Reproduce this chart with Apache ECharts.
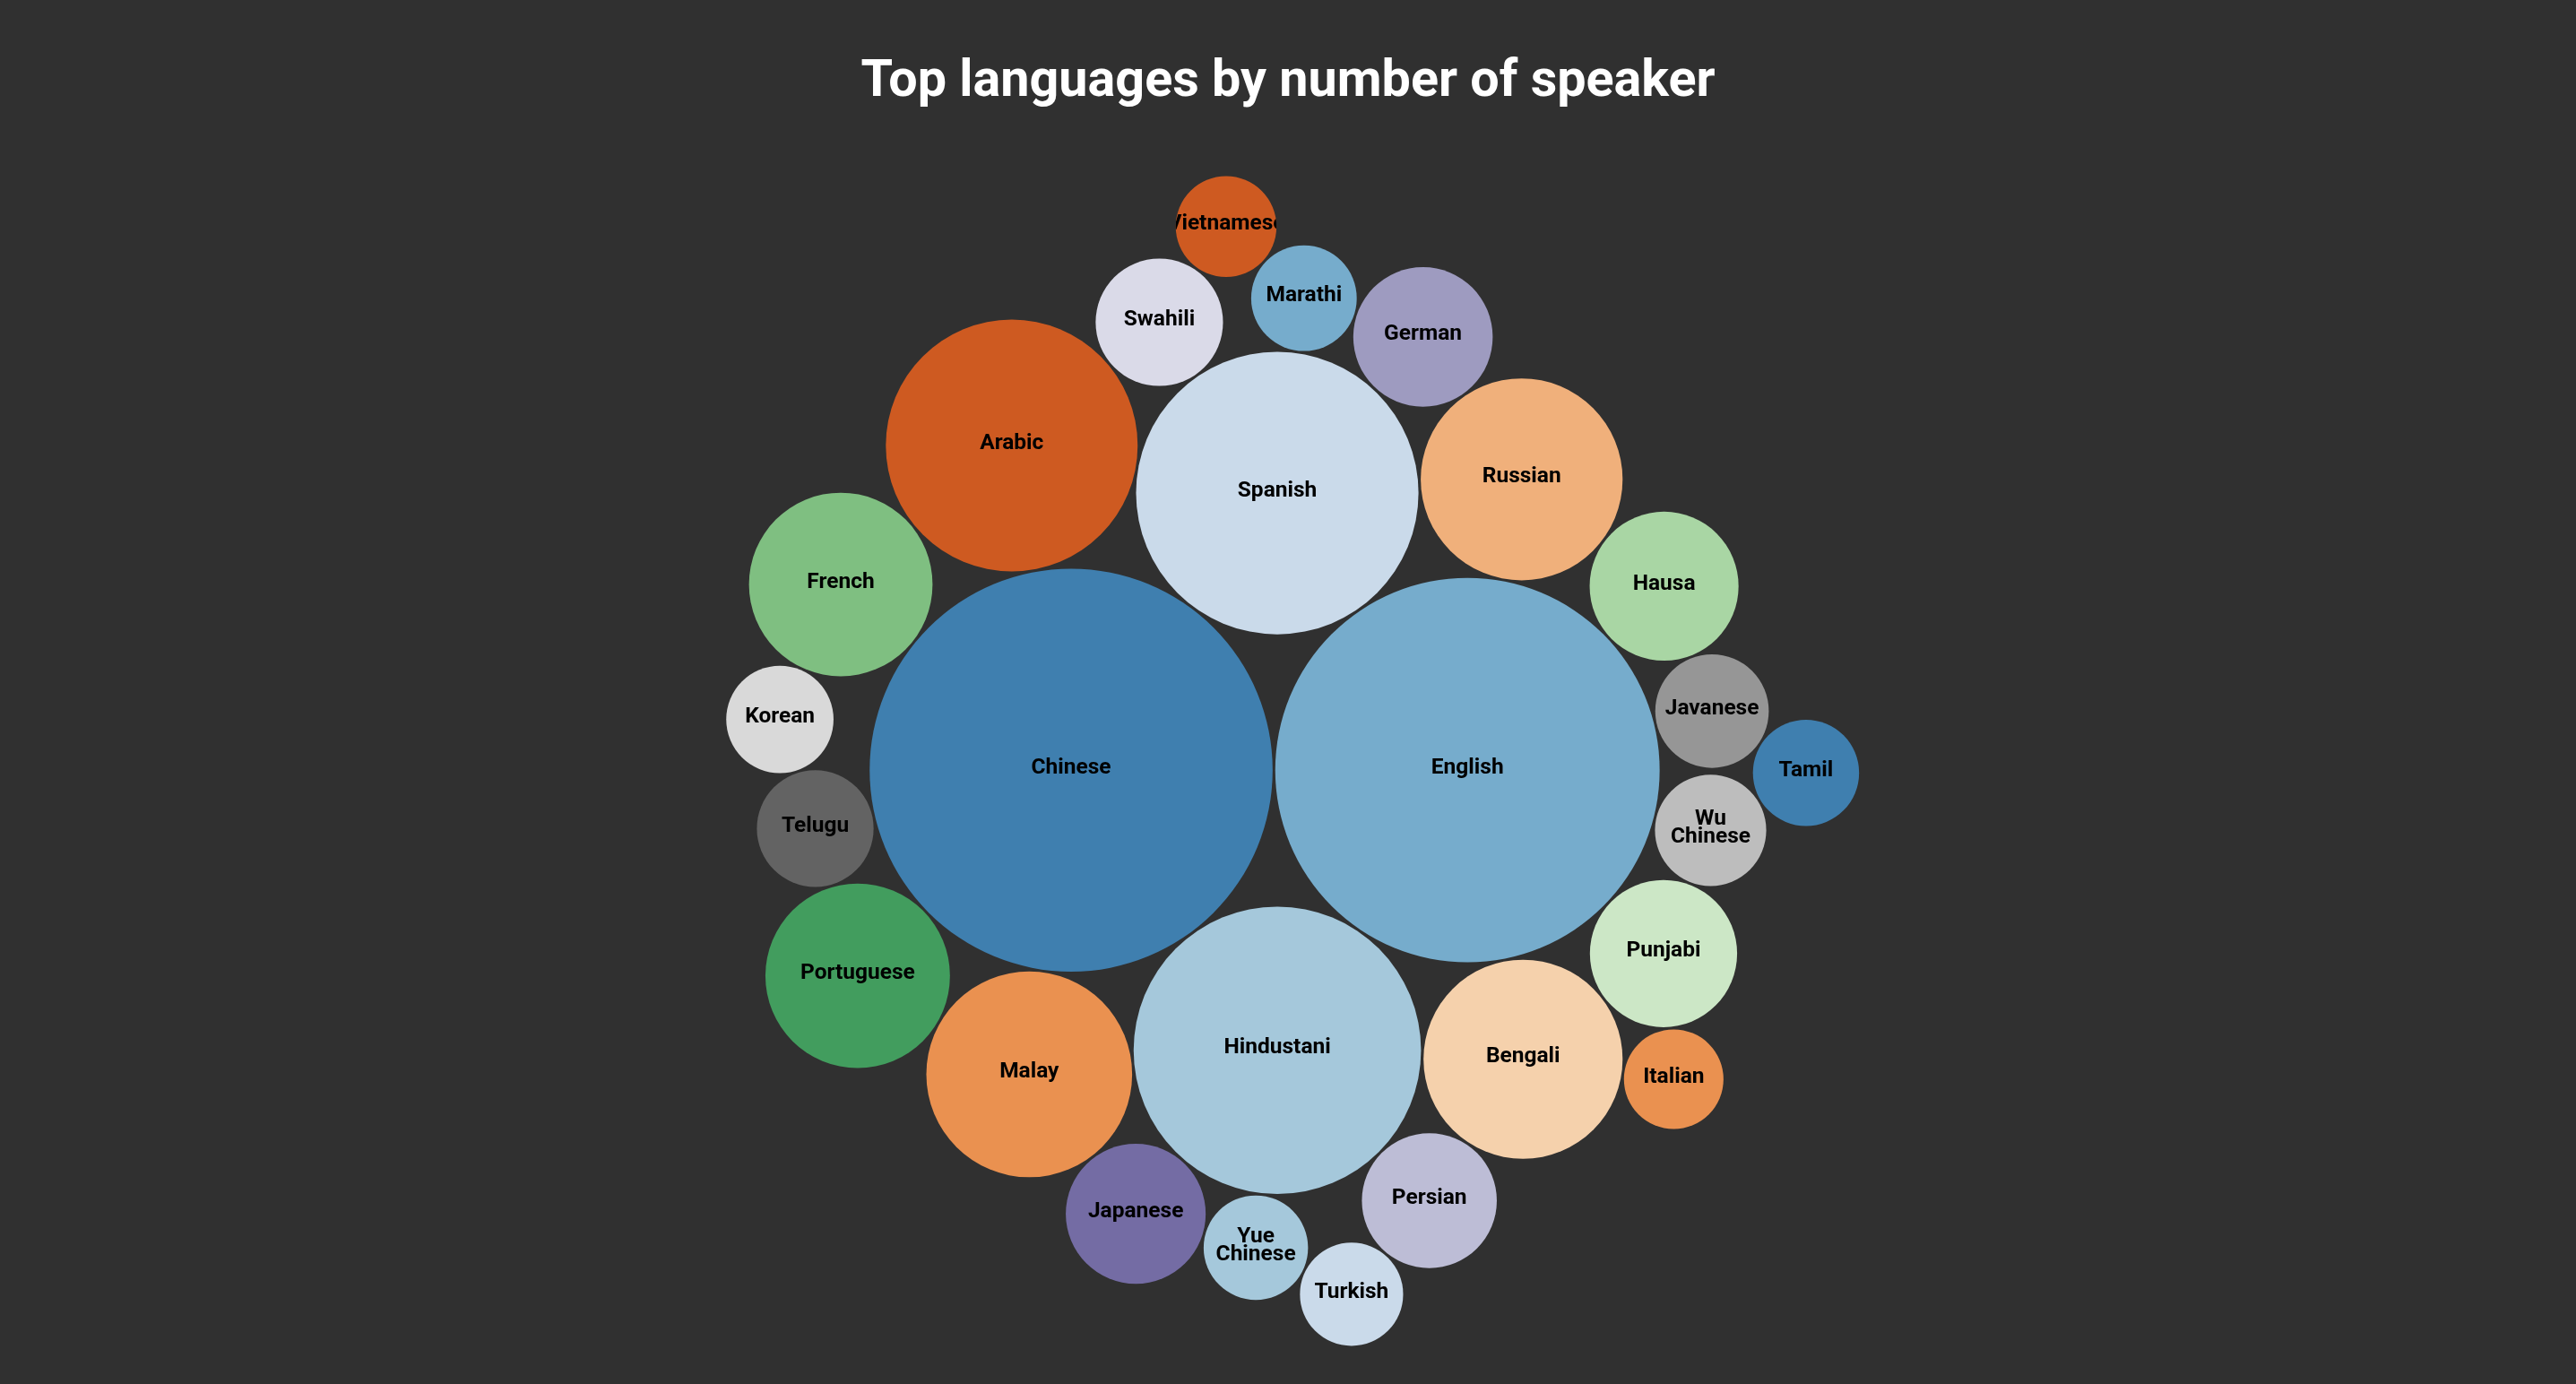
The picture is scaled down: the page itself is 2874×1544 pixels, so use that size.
<!DOCTYPE html>
<html>
<head>
<meta charset="utf-8">
<title>Top languages by number of speaker</title>
<script src="https://cdn.jsdelivr.net/npm/echarts/dist/echarts.min.js"></script>
<style>
  html, body { margin: 0; padding: 0; background: #303030; }
  #chart { width: 2874px; height: 1544px; }
</style>
</head>
<body>
<div id="chart"></div>
<script>
// languages, in data order (same order the colours are handed out)
const languages = [
  'Chinese', 'English', 'Hindustani', 'Spanish', 'Arabic', 'Malay', 'Russian',
  'Bengali', 'Portuguese', 'French', 'Hausa', 'Punjabi', 'Japanese', 'German',
  'Persian', 'Swahili', 'Telugu', 'Javanese', 'Wu Chinese', 'Korean', 'Tamil',
  'Marathi', 'Yue Chinese', 'Turkish', 'Vietnamese', 'Italian'
];
// speakers, millions
const speakers = [
  1311, 1193, 667, 644, 512, 342, 329,
  320, 275, 272, 179, 175, 158, 157,
  147, 131, 110, 104, 100, 93, 91,
  90, 88, 86, 82, 80
];
// d3 category20c, a bit muted like the picture
const baseColors = [
  '#3182bd', '#6baed6', '#9ecae1', '#c6dbef', '#e6550d', '#fd8d3c', '#fdae6b', '#fdd0a2',
  '#31a354', '#74c476', '#a1d99b', '#c7e9c0', '#756bb1', '#9e9ac8', '#bcbddc', '#dadaeb',
  '#636363', '#969696', '#bdbdbd', '#d9d9d9'
];

function mute(hex, s) {
  const r = parseInt(hex.slice(1, 3), 16), g = parseInt(hex.slice(3, 5), 16), b = parseInt(hex.slice(5, 7), 16);
  const l = 0.213 * r + 0.715 * g + 0.072 * b;
  const f = v => Math.max(0, Math.min(255, Math.round(l + s * (v - l))));
  return 'rgb(' + f(r) + ',' + f(g) + ',' + f(b) + ')';
}
const palette = baseColors.map(c => mute(c, 0.8));

// ---- circle packing (front-chain, same as d3.packSiblings) ----
function place(b, a, c) {
  var dx = b.x - a.x, dy = b.y - a.y, d2 = dx * dx + dy * dy, x, y, a2, b2;
  if (d2) {
    a2 = a.r + c.r; a2 *= a2;
    b2 = b.r + c.r; b2 *= b2;
    if (a2 > b2) {
      x = (d2 + b2 - a2) / (2 * d2);
      y = Math.sqrt(Math.max(0, b2 / d2 - x * x));
      c.x = b.x - x * dx - y * dy;
      c.y = b.y - x * dy + y * dx;
    } else {
      x = (d2 + a2 - b2) / (2 * d2);
      y = Math.sqrt(Math.max(0, a2 / d2 - x * x));
      c.x = a.x + x * dx - y * dy;
      c.y = a.y + x * dy + y * dx;
    }
  } else {
    c.x = a.x + c.r;
    c.y = a.y;
  }
}
function intersects(a, b) {
  var dr = a.r + b.r - 1e-6, dx = b.x - a.x, dy = b.y - a.y;
  return dr > 0 && dr * dr > dx * dx + dy * dy;
}
function score(node) {
  var a = node._, b = node.next._, ab = a.r + b.r,
      dx = (a.x * b.r + b.x * a.r) / ab,
      dy = (a.y * b.r + b.y * a.r) / ab;
  return dx * dx + dy * dy;
}
function Node(c) { this._ = c; this.next = null; this.previous = null; }

function enclosesNot(a, b) {
  var dr = a.r - b.r, dx = b.x - a.x, dy = b.y - a.y;
  return dr < 0 || dr * dr < dx * dx + dy * dy;
}
function enclosesWeak(a, b) {
  var dr = a.r - b.r + Math.max(a.r, b.r, 1) * 1e-9, dx = b.x - a.x, dy = b.y - a.y;
  return dr > 0 && dr * dr > dx * dx + dy * dy;
}
function enclosesWeakAll(a, B) {
  for (var i = 0; i < B.length; ++i) if (!enclosesWeak(a, B[i])) return false;
  return true;
}
function basis2(a, b) {
  var x21 = b.x - a.x, y21 = b.y - a.y, r21 = b.r - a.r,
      l = Math.sqrt(x21 * x21 + y21 * y21);
  return { x: (a.x + b.x + x21 / l * r21) / 2, y: (a.y + b.y + y21 / l * r21) / 2, r: (l + a.r + b.r) / 2 };
}
function basis3(a, b, c) {
  var x1 = a.x, y1 = a.y, r1 = a.r, x2 = b.x, y2 = b.y, r2 = b.r, x3 = c.x, y3 = c.y, r3 = c.r,
      a2 = x1 - x2, a3 = x1 - x3, b2 = y1 - y2, b3 = y1 - y3,
      c2 = r2 - r1, c3 = r3 - r1,
      d1 = x1 * x1 + y1 * y1 - r1 * r1,
      d2 = d1 - x2 * x2 - y2 * y2 + r2 * r2,
      d3 = d1 - x3 * x3 - y3 * y3 + r3 * r3,
      ab = a3 * b2 - a2 * b3,
      xa = (b2 * d3 - b3 * d2) / (ab * 2) - x1,
      xb = (b3 * c2 - b2 * c3) / ab,
      ya = (a3 * d2 - a2 * d3) / (ab * 2) - y1,
      yb = (a2 * c3 - a3 * c2) / ab,
      A = xb * xb + yb * yb - 1,
      B = 2 * (r1 + xa * xb + ya * yb),
      C = xa * xa + ya * ya - r1 * r1,
      r = -(Math.abs(A) > 1e-6 ? (B + Math.sqrt(B * B - 4 * A * C)) / (2 * A) : C / B);
  return { x: x1 + xa + xb * r, y: y1 + ya + yb * r, r: r };
}
function basis(B) {
  if (B.length === 1) return { x: B[0].x, y: B[0].y, r: B[0].r };
  if (B.length === 2) return basis2(B[0], B[1]);
  return basis3(B[0], B[1], B[2]);
}
function extendBasis(B, p) {
  var i, j;
  if (enclosesWeakAll(p, B)) return [p];
  for (i = 0; i < B.length; ++i) {
    if (enclosesNot(p, B[i]) && enclosesWeakAll(basis2(B[i], p), B)) return [B[i], p];
  }
  for (i = 0; i < B.length - 1; ++i) {
    for (j = i + 1; j < B.length; ++j) {
      if (enclosesNot(basis2(B[i], B[j]), p) && enclosesNot(basis2(B[i], p), B[j]) &&
          enclosesNot(basis2(B[j], p), B[i]) && enclosesWeakAll(basis3(B[i], B[j], p), B)) {
        return [B[i], B[j], p];
      }
    }
  }
  return B.concat([p]).slice(-3);
}
function enclose(circles) {
  var i = 0, n = circles.length, B = [], p, e;
  while (i < n) {
    p = circles[i];
    if (e && enclosesWeak(e, p)) ++i;
    else { B = extendBasis(B, p); e = basis(B); i = 0; }
  }
  return e;
}

function packSiblings(circles) {
  var n = circles.length, a, b, c, aa, ca, i, j, k, sj, sk;
  a = circles[0]; a.x = 0; a.y = 0;
  b = circles[1]; a.x = -b.r; b.x = a.r; b.y = 0;
  place(b, a, c = circles[2]);
  a = new Node(a); b = new Node(b); c = new Node(c);
  a.next = c.previous = b;
  b.next = a.previous = c;
  c.next = b.previous = a;
  pack: for (i = 3; i < n; ++i) {
    place(a._, b._, c = circles[i]); c = new Node(c);
    j = b.next; k = a.previous; sj = b._.r; sk = a._.r;
    do {
      if (sj <= sk) {
        if (intersects(j._, c._)) { b = j; a.next = b; b.previous = a; --i; continue pack; }
        sj += j._.r; j = j.next;
      } else {
        if (intersects(k._, c._)) { a = k; a.next = b; b.previous = a; --i; continue pack; }
        sk += k._.r; k = k.previous;
      }
    } while (j !== k.next);
    c.previous = a; c.next = b; a.next = b.previous = b = c;
    aa = score(a);
    while ((c = c.next) !== b) {
      if ((ca = score(c)) < aa) { a = c; aa = ca; }
    }
    b = a.next;
  }
  var chain = [b._]; c = b;
  while ((c = c.next) !== b) chain.push(c._);
  var e = enclose(chain);
  for (i = 0; i < n; ++i) { circles[i].x -= e.x; circles[i].y -= e.y; }
  return e.r;
}

// pack like d3.pack().size([D, D]).padding(3)
const packDiameter = 1319;
const packPadding = 3;
const packCenter = [1438, 849];

const circles = speakers.map(v => ({ r: Math.sqrt(v) }));
const r1 = packSiblings(circles);
const padRaw = packPadding * r1 / packDiameter;
circles.forEach(c => { c.r += padRaw; });
const e2 = packSiblings(circles);
circles.forEach(c => { c.r -= padRaw; });
const scale = packDiameter / (2 * (e2 + padRaw));

const bubbleData = circles.map((c, i) => [
  packCenter[0] + c.x * scale,
  packCenter[1] + c.y * scale,
  c.r * scale,
  speakers[i]
]);

function labelOf(name) {
  return name.split(/(?=[A-Z][^A-Z])/g).map(s => s.trim()).join('\n');
}

const chart = echarts.init(document.getElementById('chart'));
chart.setOption({
  backgroundColor: '#303030',
  animation: false,
  title: {
    text: 'Top languages by number of speaker',
    left: 'center',
    top: 59,
    textStyle: { color: '#ffffff', fontSize: 57.5, fontWeight: 'bold', fontFamily: 'Roboto' }
  },
  series: [{
    type: 'custom',
    coordinateSystem: 'none',
    silent: true,
    data: bubbleData,
    renderItem: function (params, api) {
      const i = params.dataIndex;
      const x = api.value(0), y = api.value(1), r = api.value(2);
      return {
        type: 'group',
        x: x,
        y: y,
        children: [
          {
            type: 'circle',
            shape: { cx: 0, cy: 0, r: r },
            style: { fill: palette[i % palette.length] }
          },
          {
            type: 'text',
            x: 0,
            y: -2.5,
            clipPath: { type: 'circle', shape: { cx: 0, cy: 2.5, r: r } },
            style: {
              text: labelOf(languages[i]),
              fill: '#000000',
              font: 'bold 24.5px Roboto',
              textAlign: 'center',
              textVerticalAlign: 'middle',
              align: 'center',
              verticalAlign: 'middle',
              lineHeight: 20
            }
          }
        ]
      };
    }
  }]
});
</script>
</body>
</html>
